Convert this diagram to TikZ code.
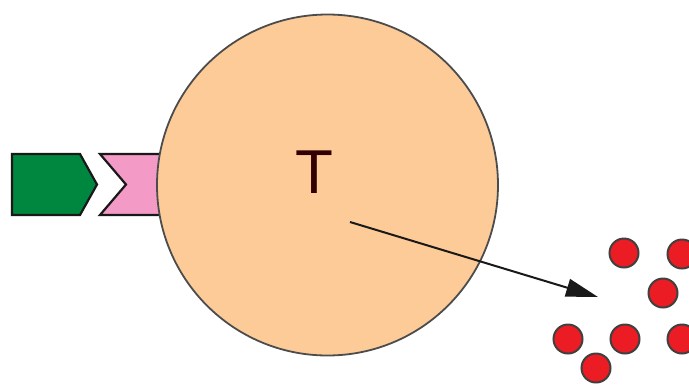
\documentclass[tikz,border=0pt]{standalone}
\usepackage{fontspec}
\setmainfont{Liberation Sans}
\usetikzlibrary{arrows.meta}
\definecolor{peach}{HTML}{FCCB98}
\definecolor{pgreen}{HTML}{00873F}
\definecolor{ppink}{HTML}{F49AC6}
\definecolor{dred}{HTML}{EC1C24}
\tikzset{
  part/.style={draw=black!90, line width=2.2pt, line join=miter},
  cellbody/.style={circle, draw=black!70, line width=1.8pt, fill=peach, minimum size=341pt, inner sep=0pt},
  particle/.style={circle, draw=black!75, fill=dred, line width=2pt, minimum size=29pt, inner sep=0pt},
  pointer/.style={draw=black!90, line width=2pt, -{Triangle[length=32pt,width=18pt]}}
}
\begin{document}
\begin{tikzpicture}[x=1pt,y=-1pt]
\useasboundingbox (0,0) rectangle (689,384);
% pink chevron block (partly under the circle)
\path[part, fill=ppink] (100,154) -- (170,154) -- (170,215) -- (100,215) -- (126,184.5) -- cycle;
% green arrow block
\path[part, fill=pgreen] (12,154) -- (80,154) -- (97,184.5) -- (80,215) -- (12,215) -- cycle;
% big circle
\node[cellbody] (cell) at (327.5,185) {};
\node[font=\fontsize{62}{62}\selectfont, text=black!80!red, inner sep=0pt] (tee) at (314,172) {T};
\coordinate (start) at (350,222);
% particles
\node[particle] (p1) at (624,253) {};
\node[particle] (p2) at (682,254) {};
\node[particle] (p3) at (663,293) {};
\node[particle] (p4) at (568,339) {};
\node[particle] (p5) at (625,339) {};
\node[particle] (p6) at (682,339) {};
\node[particle] (p7) at (596,368) {};
\coordinate (tip) at (598,297);
\draw[pointer] (start) -- (tip);
\end{tikzpicture}
\end{document}
